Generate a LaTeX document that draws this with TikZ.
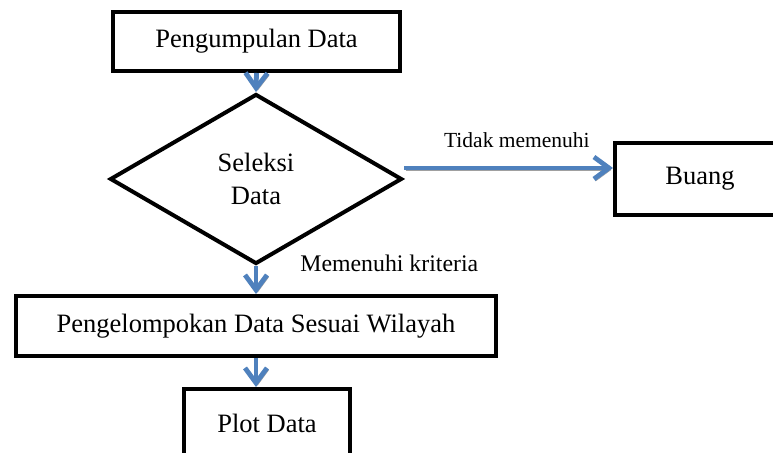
\documentclass[tikz,border=0pt]{standalone}
\usepackage{fontspec}
\setmainfont{Liberation Serif}
\usetikzlibrary{shapes.geometric, arrows.meta}
\definecolor{arrowblue}{HTML}{4F81BD}
\definecolor{shadowgray}{HTML}{A0A0A0}

\begin{document}
\begin{tikzpicture}[x=0.5pt, y=0.5pt]
\tikzstyle{box}=[rectangle, draw, line width=2pt, inner sep=0pt, font=\fontsize{13.25}{16.5}\selectfont]
\tikzstyle{decision}=[diamond, draw, line width=2pt, inner sep=0pt, aspect=1.7, align=center, font=\fontsize{13.25}{16.5}\selectfont]
\tikzstyle{flow}=[line width=2.4pt, -{Straight Barb[length=7.5pt, width=11pt]}, preaction={draw=shadowgray, transform canvas={xshift=0.8pt, yshift=-1pt}}, draw=arrowblue]
\tikzstyle{lbl}=[inner sep=0pt]

\useasboundingbox (0,0) rectangle (773,453);

\node[box, minimum width=143.5pt, minimum height=29.5pt] (kumpul) at (256.5,411.5) {Pengumpulan Data};
\node[decision, minimum width=146pt, minimum height=85pt] (seleksi) at (256,274) {Seleksi\\Data};
\node[box, minimum width=85pt, minimum height=36pt] (buang) at (700,274) {Buang};
\node[box, minimum width=240pt, minimum height=30pt] (kelompok) at (256,127) {Pengelompokan Data Sesuai Wilayah};
\node[box, minimum width=83pt, minimum height=34.5pt] (plot) at (267,29.5) {Plot Data};

\draw[flow] (kumpul.south) -- (seleksi.north);
\draw[flow] ([yshift=5.5pt]seleksi.east) -- ([yshift=5.5pt]seleksi.east -| buang.west)
  node[lbl, above=9pt, pos=0.54, font=\fontsize{10.75}{13}\selectfont] (tidak) {Tidak memenuhi};
\draw[flow] (seleksi.south) -- (kelompok.north);
\draw[flow] (kelompok.south) -- (kelompok.south |- plot.north);

\node[lbl, anchor=base west, font=\fontsize{11.9}{14}\selectfont] (memenuhi) at (300,181) {Memenuhi kriteria};

\end{tikzpicture}
\end{document}
